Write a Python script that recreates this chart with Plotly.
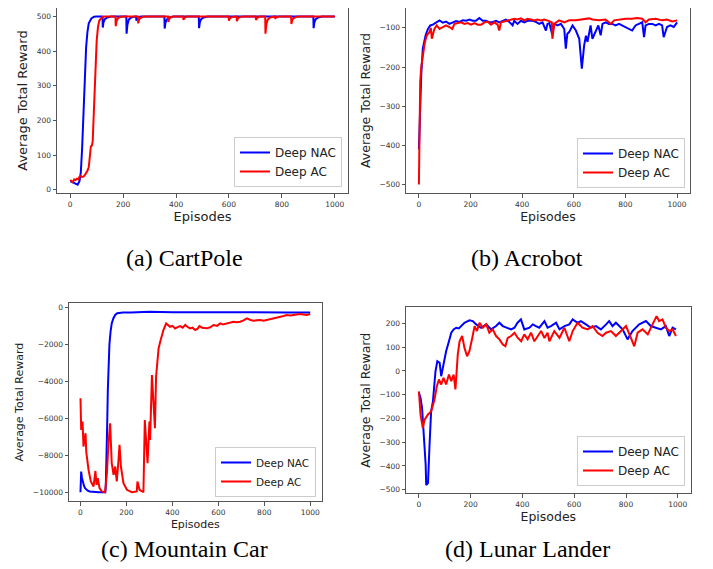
import plotly.graph_objects as go

# ---------------- data ----------------
episode_ticks = [0, 200, 400, 600, 800, 1000]
series_names = ["Deep NAC", "Deep AC"]
captions = ["(a) CartPole", "(b) Acrobot", "(c) Mountain Car", "(d) Lunar Lander"]

# (a) CartPole
cp_nac_x = [0, 10, 20, 28, 35, 40, 45, 50, 55, 60, 65, 70, 80, 90, 100, 122, 123, 126, 131, 140,
            155, 212, 213, 216, 221, 230, 245, 249, 250, 253, 258, 268, 356, 357, 360, 365, 374, 390, 486, 487,
            490, 495, 504, 520, 919, 920, 923, 928, 937, 952, 1000]
cp_nac_y = [25, 22, 17, 15, 25, 50, 120, 230, 330, 410, 455, 480, 494, 499, 500, 500, 468, 484, 492, 497,
            500, 500, 450, 475, 490, 497, 500, 500, 488, 494, 498, 500, 500, 465, 482, 491, 497, 500, 500, 466,
            483, 492, 497, 500, 500, 466, 483, 492, 497, 500, 500]
cp_ac_x = [0, 5, 10, 15, 20, 25, 30, 35, 40, 45, 50, 55, 60, 65, 70, 75, 78, 82, 85, 88,
           92, 96, 100, 105, 110, 120, 130, 171, 172, 175, 180, 189, 205, 256, 257, 260, 265, 274, 290, 370,
           371, 374, 379, 390, 427, 428, 432, 440, 599, 600, 603, 610, 620, 629, 630, 633, 640, 655, 701, 702,
           706, 715, 737, 738, 741, 746, 755, 770, 774, 775, 778, 790, 835, 836, 839, 845, 855, 870, 1000]
cp_ac_y = [28, 25, 22, 30, 28, 32, 30, 38, 40, 37, 38, 42, 48, 55, 65, 100, 125, 128, 140, 200,
           300, 380, 430, 470, 488, 497, 500, 500, 472, 486, 494, 499, 500, 500, 480, 490, 495, 499, 500, 500,
           484, 492, 497, 500, 500, 490, 496, 500, 500, 488, 494, 498, 500, 500, 486, 493, 498, 500, 500, 490,
           495, 500, 500, 450, 475, 490, 497, 500, 500, 493, 497, 500, 500, 478, 489, 495, 499, 500, 500]
cp_yticks = [0, 100, 200, 300, 400, 500]

# (b) Acrobot
ab_nac_x = [0, 5, 9, 15, 20, 26, 35, 44, 54, 67, 80, 93, 105, 118, 131, 144, 157, 170, 183, 196,
            208, 221, 234, 247, 260, 273, 286, 299, 311, 324, 337, 350, 363, 369, 382, 395, 408, 421, 440, 453,
            466, 479, 492, 498, 505, 517, 524, 537, 550, 563, 569, 575, 582, 595, 608, 621, 631, 640, 647, 653,
            659, 665, 672, 682, 695, 704, 711, 723, 736, 749, 762, 775, 788, 801, 814, 826, 839, 852, 865, 872,
            878, 891, 904, 917, 930, 942, 948, 961, 974, 987, 1000]
ab_nac_y = [-410, -300, -221, -153, -135, -119, -103, -94, -92, -86, -81, -87, -84, -90, -86, -83, -85, -81, -82, -79,
            -82, -82, -75, -82, -82, -86, -85, -82, -86, -82, -79, -85, -94, -82, -90, -82, -86, -82, -82, -85,
            -90, -86, -107, -90, -88, -119, -90, -94, -90, -103, -153, -115, -111, -94, -107, -128, -204, -145, -120, -136,
            -110, -94, -128, -111, -94, -119, -90, -86, -90, -90, -94, -90, -94, -98, -103, -107, -94, -90, -86, -124,
            -94, -90, -90, -94, -90, -94, -124, -98, -94, -98, -86]
ab_ac_x = [0, 2, 5, 9, 13, 18, 22, 26, 31, 36, 41, 46, 50, 55, 60, 69, 80, 93, 105, 118,
           129, 138, 151, 164, 176, 189, 202, 215, 228, 241, 254, 266, 279, 292, 305, 311, 318, 331, 344, 356,
           369, 382, 395, 408, 421, 434, 447, 459, 472, 485, 498, 505, 515, 517, 524, 543, 563, 582, 608, 634,
           659, 672, 698, 723, 743, 756, 781, 801, 826, 845, 865, 878, 891, 917, 942, 961, 981, 1000]
ab_ac_y = [-500, -420, -238, -200, -179, -155, -141, -130, -119, -115, -111, -100, -128, -115, -103, -94, -103, -98, -94, -98,
           -103, -90, -88, -86, -90, -88, -92, -88, -92, -92, -86, -84, -92, -86, -92, -107, -86, -84, -81, -79,
           -77, -79, -76, -81, -77, -79, -81, -79, -81, -79, -81, -83, -86, -128, -90, -81, -86, -81, -81, -79,
           -76, -79, -81, -79, -90, -81, -79, -77, -77, -75, -77, -86, -79, -77, -81, -79, -84, -81]
ab_yticks = [-500, -400, -300, -200, -100]

# (c) Mountain Car
mc_nac_x = [0, 3, 6, 10, 15, 20, 30, 40, 60, 80, 100, 108, 110, 113, 116, 119, 122, 126, 131, 136,
            143, 151, 160, 170, 185, 220, 300, 400, 500, 600, 700, 800, 900, 1000]
mc_nac_y = [-10000, -8880, -9200, -9500, -9650, -9780, -9900, -9960, -10000, -10000, -10000, -10000, -9700, -8500,
            -6500, -4500, -3000, -2000, -1300, -870, -600, -410, -320, -290, -280, -275, -240, -260, -270, -265,
            -270, -270, -275, -280]
mc_ac_x = [0, 3, 9, 13, 22, 25, 35, 45, 57, 61, 65, 70, 75, 83, 93, 107, 115, 122, 129, 136,
           144, 151, 158, 165, 170, 176, 187, 202, 224, 245, 248, 257, 274, 280, 292, 300, 303, 311, 318, 324,
           329, 340, 347, 361, 373, 380, 390, 400, 412, 420, 434, 445, 456, 465, 477, 488, 499, 510, 518, 530,
           550, 565, 579, 595, 608, 620, 637, 650, 666, 680, 695, 710, 724, 740, 753, 768, 782, 797, 811, 825,
           840, 855, 869, 884, 898, 913, 927, 942, 956, 970, 985, 1000]
mc_ac_y = [-4920, -6630, -6180, -7530, -6810, -7800, -8790, -9420, -9690, -9150, -8850, -9600, -9240, -9780, -9960,
           -10000, -8970, -7350, -6270, -8430, -9060, -8610, -9420, -8340, -7440, -8610, -9510, -9870, -10000, -9960,
           -9420, -9870, -10000, -6090, -8430, -6180, -7170, -3660, -5010, -6540, -3750, -2220, -1860, -1230, -870,
           -950, -1050, -1000, -1140, -1080, -1010, -1100, -950, -1050, -1140, -1100, -1230, -1150, -1010, -1100,
           -1135, -1080, -955, -1000, -865, -920, -865, -830, -775, -800, -775, -700, -595, -680, -720, -700,
           -685, -720, -685, -650, -595, -560, -505, -470, -415, -440, -415, -380, -360, -390, -415, -360]
mc_yticks = [-10000, -8000, -6000, -4000, -2000, 0]

# (d) Lunar Lander
ll_nac_x = [0, 6, 12, 19, 26, 28, 35, 41, 47, 54, 64, 71, 80, 86, 93, 99, 105, 116, 125, 134,
            144, 154, 163, 176, 195, 208, 221, 240, 260, 279, 298, 311, 324, 337, 356, 369, 381, 394, 407, 427,
            440, 452, 465, 485, 497, 510, 530, 543, 562, 581, 594, 613, 626, 645, 664, 684, 703, 723, 735, 748,
            761, 787, 806, 825, 851, 877, 896, 915, 935, 954, 967, 980, 993]
ll_nac_y = [-92, -113, -155, -268, -395, -480, -472, -310, -170, -128, -1, 41, 34, -22, 13, 55, 83, 125, 161, 175,
            182, 179, 189, 203, 213, 210, 196, 182, 196, 175, 189, 203, 189, 182, 175, 182, 203, 217, 175, 182,
            196, 189, 182, 210, 182, 189, 203, 175, 189, 196, 217, 203, 210, 196, 182, 189, 175, 196, 210, 189,
            203, 175, 133, 168, 196, 210, 189, 182, 175, 189, 147, 182, 175]
ll_ac_x = [0, 6, 15, 22, 35, 47, 60, 69, 77, 86, 95, 105, 116, 125, 134, 141, 150, 157, 167, 176,
           186, 195, 206, 215, 224, 234, 247, 260, 272, 285, 298, 311, 324, 334, 343, 356, 369, 382, 395, 407,
           420, 433, 446, 459, 472, 485, 497, 504, 523, 543, 562, 581, 594, 613, 632, 652, 671, 690, 709, 723,
           742, 761, 780, 800, 819, 832, 845, 864, 884, 903, 918, 928, 941, 954, 967, 980, 993]
ll_ac_y = [-86, -183, -240, -205, -183, -170, -121, -65, -36, -57, -29, -57, -15, -43, -15, -78, 69, 125, 147, 97,
           62, 83, 139, 189, 168, 203, 182, 196, 161, 175, 147, 133, 111, 104, 139, 147, 161, 139, 125, 154,
           133, 161, 125, 147, 168, 139, 161, 125, 168, 139, 182, 125, 168, 203, 182, 175, 189, 161, 147, 161,
           168, 147, 168, 189, 139, 104, 161, 175, 154, 196, 231, 210, 217, 182, 168, 175, 147]
ll_yticks = [-500, -400, -300, -200, -100, 0, 100, 200]

# ---------------- figure ----------------
# the page body has an 8px margin, so the figure is drawn 8px smaller and
# all screen positions are shifted by that offset
OFF = 8
W, H = 713 - OFF, 569 - OFF
BLUE, RED = "#0000ff", "#ff0000"
SANS = "DejaVu Sans, Verdana, sans-serif"
SERIF = "Liberation Serif, Times New Roman, serif"


def fx(x):
    return (x - OFF) / W


def fy(y):
    return 1 - (y - OFF) / H


panels = [
    dict(nac=(cp_nac_x, cp_nac_y), ac=(cp_ac_x, cp_ac_y), box=(57, 348, 4, 193),
         yr=[-9.25, 524.25], yt=cp_yticks, tf=13, leg=(342, 187), lf=12),
    dict(nac=(ab_nac_x, ab_nac_y), ac=(ab_ac_x, ab_ac_y), box=(406, 690, 7, 193),
         yr=[-521.4, -49.5], yt=ab_yticks, tf=12.5, leg=(685, 188), lf=12),
    dict(nac=(mc_nac_x, mc_nac_y), ac=(mc_ac_x, mc_ac_y), box=(69, 321.7, 303.3, 501),
         yr=[-10475, 220], yt=mc_yticks, tf=11, leg=(316, 497), lf=10.5),
    dict(nac=(ll_nac_x, ll_nac_y), ac=(ll_ac_x, ll_ac_y), box=(406, 690.7, 307.3, 493.3),
         yr=[-515, 268], yt=ll_yticks, tf=12.5, leg=(685, 486), lf=12),
]

fig = go.Figure()
layout = dict(width=W, height=H, margin=dict(l=0, r=0, t=0, b=0, autoexpand=False),
              paper_bgcolor="white", plot_bgcolor="white", showlegend=True)

for i, p in enumerate(panels, start=1):
    sfx = "" if i == 1 else str(i)
    leg = "legend" + sfx
    for name, (xs, ys), col in ((series_names[0], p["nac"], BLUE), (series_names[1], p["ac"], RED)):
        fig.add_trace(go.Scatter(x=xs, y=ys, mode="lines", name=name,
                                 line=dict(color=col, width=2),
                                 xaxis="x" + sfx, yaxis="y" + sfx, legend=leg,
                                 hoverinfo="skip"))
    common = dict(showline=True, mirror=True, linecolor="#555555", linewidth=1,
                  ticks="outside", ticklen=3.5, tickwidth=1, tickcolor="#555555",
                  showgrid=False, zeroline=False, automargin=False,
                  tickfont=dict(family=SANS, size=7.5, color="#333333"))
    x0, x1, y0, y1 = p["box"]
    layout["xaxis" + sfx] = dict(domain=[max(fx(x0), 0), min(fx(x1), 1)], anchor="y" + sfx,
                                 range=[-50, 1050], tickvals=episode_ticks, tickformat="d",
                                 title=dict(text="Episodes", standoff=4,
                                            font=dict(family=SANS, size=p["tf"], color="#222222")),
                                 **common)
    layout["yaxis" + sfx] = dict(domain=[fy(y1), min(fy(y0), 1)], anchor="x" + sfx, range=p["yr"],
                                 tickvals=p["yt"], tickformat="d", exponentformat="none",
                                 separatethousands=False,
                                 title=dict(text="Average Total Reward", standoff=6,
                                            font=dict(family=SANS, size=p["tf"], color="#222222")),
                                 **common)
    lx, ly = p["leg"]
    layout[leg] = dict(x=fx(lx), y=fy(ly), xanchor="right", yanchor="bottom",
                       bgcolor="white", bordercolor="#cccccc", borderwidth=1,
                       font=dict(family=SANS, size=p["lf"], color="#222222"),
                       itemwidth=30, tracegroupgap=0)

fig.update_layout(**layout)

cap_pos = [(185, 258), (527, 258), (185, 549), (527, 549)]
for text, (cx, cy) in zip(captions, cap_pos):
    fig.add_annotation(text=text, x=fx(cx), y=fy(cy), xref="paper", yref="paper",
                       showarrow=False, xanchor="center", yanchor="middle",
                       font=dict(family=SERIF, size=24, color="black"))

fig.write_html("out.html")
